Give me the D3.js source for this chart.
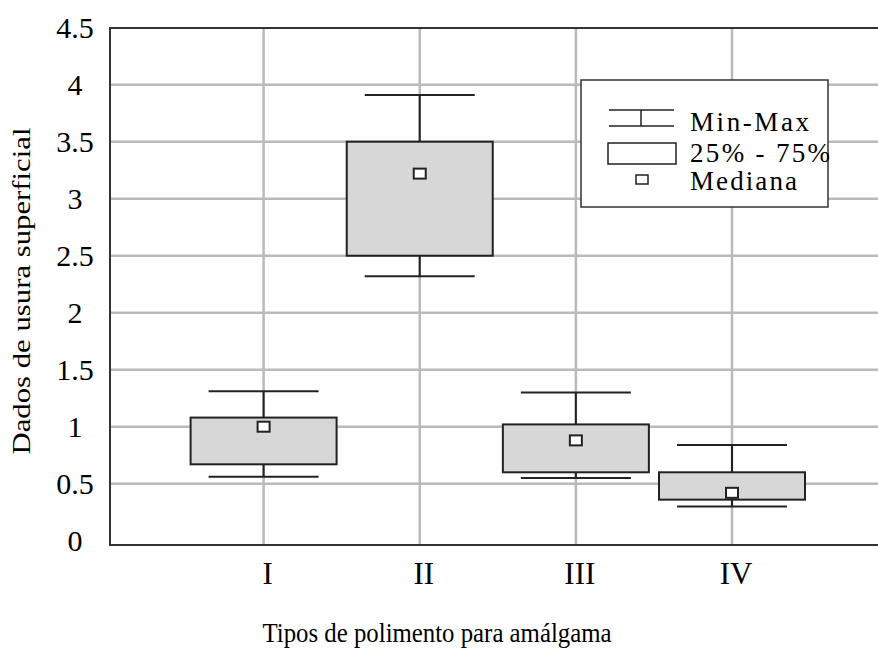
<!DOCTYPE html>
<html>
<head>
<meta charset="utf-8">
<script src="https://cdn.jsdelivr.net/npm/d3@7"></script>
<style>
  html, body { margin: 0; padding: 0; background: #fff; }
  svg { display: block; }
</style>
</head>
<body>
<svg id="chart" width="878" height="651"></svg>
<script>
// ---- data ----
const categories = ["I", "II", "III", "IV"];
const maxVals    = [1.31, 3.91, 1.30, 0.84];
const q3Vals     = [1.08, 3.50, 1.02, 0.60];
const medianVals = [1.00, 3.22, 0.88, 0.42];
const q1Vals     = [0.67, 2.50, 0.60, 0.36];
const minVals    = [0.56, 2.32, 0.55, 0.30];
const yTickValues = [0, 0.5, 1, 1.5, 2, 2.5, 3, 3.5, 4, 4.5];
const yTickLabels = ["0", "0.5", "1", "1.5", "2", "2.5", "3", "3.5", "4", "4.5"];
const legendLabels = ["Min-Max", "25% - 75%", "Mediana"];
const xTitle = "Tipos de polimento para amálgama";
const yTitle = "Dados de usura superficial";

// ---- layout ----
const FONT = "'Liberation Serif', 'Times New Roman', Times, serif";
const svg = d3.select("#chart").attr("font-family", FONT);
const pLeft = 110, pRight = 880, pTop = 28, pBottom = 545;
const boxW = 146, capW = 110, medW = 12, medH = 10;
const gridColor = "#bababa", inkColor = "#222";

const x = d3.scalePoint().domain(categories).range([263.6, 732]).padding(0);
const y = d3.scaleLinear().domain([0, 4.5]).range([540.7, 27.7]);

const data = categories.map((c, i) => ({
  cat: c, max: maxVals[i], q3: q3Vals[i], med: medianVals[i], q1: q1Vals[i], min: minVals[i]
}));

svg.append("rect").attr("width", 878).attr("height", 651).attr("fill", "#fff");

// gridlines
svg.append("g").selectAll("line")
  .data(yTickValues.filter(v => v > 0 && v < 4.5))
  .join("line")
  .attr("x1", pLeft).attr("x2", pRight)
  .attr("y1", d => y(d)).attr("y2", d => y(d))
  .attr("stroke", gridColor).attr("stroke-width", 2.5);

svg.append("g").selectAll("line")
  .data(categories)
  .join("line")
  .attr("x1", d => x(d)).attr("x2", d => x(d))
  .attr("y1", pTop).attr("y2", pBottom)
  .attr("stroke", gridColor).attr("stroke-width", 2.5);

// frame (top, left, bottom)
svg.append("path")
  .attr("d", `M${pRight},${pTop}H${pLeft}V${pBottom}H${pRight}`)
  .attr("fill", "none").attr("stroke", "#333").attr("stroke-width", 2);

// y tick labels
svg.append("g").selectAll("text")
  .data(yTickValues)
  .join("text")
  .attr("font-family", FONT)
  .attr("x", 75).attr("y", d => y(d))
  .attr("dy", "0.34em")
  .attr("text-anchor", "middle")
  .attr("font-size", 30)
  .attr("fill", "#000")
  .text((d, i) => yTickLabels[i]);

// x tick labels
svg.append("g").selectAll("text")
  .data(categories)
  .join("text")
  .attr("font-family", FONT)
  .attr("x", d => x(d) + 4).attr("y", 584)
  .attr("text-anchor", "middle")
  .attr("font-size", 31)
  .attr("fill", "#000")
  .text(d => d);

// axis titles
svg.append("text")
  .attr("font-family", FONT)
  .attr("x", 437).attr("y", 642)
  .attr("text-anchor", "middle")
  .attr("font-size", 28)
  .attr("textLength", 349)
  .attr("lengthAdjust", "spacingAndGlyphs")
  .attr("fill", "#000")
  .text(xTitle);

svg.append("text")
  .attr("font-family", FONT)
  .attr("transform", "translate(30,291) rotate(-90)")
  .attr("text-anchor", "middle")
  .attr("font-size", 25)
  .attr("textLength", 327)
  .attr("lengthAdjust", "spacingAndGlyphs")
  .attr("fill", "#000")
  .text(yTitle);

// boxes
const g = svg.append("g");
const box = g.selectAll("g").data(data).join("g");

// whisker stems
box.append("line")
  .attr("x1", d => x(d.cat)).attr("x2", d => x(d.cat))
  .attr("y1", d => y(d.max)).attr("y2", d => y(d.q3))
  .attr("stroke", inkColor).attr("stroke-width", 2);
box.append("line")
  .attr("x1", d => x(d.cat)).attr("x2", d => x(d.cat))
  .attr("y1", d => y(d.q1)).attr("y2", d => y(d.min))
  .attr("stroke", inkColor).attr("stroke-width", 2);
// caps
box.append("line")
  .attr("x1", d => x(d.cat) - capW / 2).attr("x2", d => x(d.cat) + capW / 2)
  .attr("y1", d => y(d.max)).attr("y2", d => y(d.max))
  .attr("stroke", inkColor).attr("stroke-width", 2);
box.append("line")
  .attr("x1", d => x(d.cat) - capW / 2).attr("x2", d => x(d.cat) + capW / 2)
  .attr("y1", d => y(d.min)).attr("y2", d => y(d.min))
  .attr("stroke", inkColor).attr("stroke-width", 2);
// IQR box
box.append("rect")
  .attr("x", d => x(d.cat) - boxW / 2).attr("width", boxW)
  .attr("y", d => y(d.q3)).attr("height", d => y(d.q1) - y(d.q3))
  .attr("fill", "#d7d7d7").attr("stroke", inkColor).attr("stroke-width", 2);
// median
box.append("rect")
  .attr("x", d => x(d.cat) - medW / 2).attr("width", medW)
  .attr("y", d => y(d.med) - medH / 2).attr("height", medH)
  .attr("fill", "#fff").attr("stroke", inkColor).attr("stroke-width", 2);

// legend
const lg = svg.append("g").attr("transform", "translate(581,80)");
lg.append("rect").attr("width", 247).attr("height", 127)
  .attr("fill", "#fff").attr("stroke", "#333").attr("stroke-width", 1.5);
// Min-Max symbol
lg.append("line").attr("x1", 28).attr("x2", 93).attr("y1", 30).attr("y2", 30)
  .attr("stroke", inkColor).attr("stroke-width", 1.5);
lg.append("line").attr("x1", 28).attr("x2", 93).attr("y1", 46).attr("y2", 46)
  .attr("stroke", inkColor).attr("stroke-width", 1.5);
lg.append("line").attr("x1", 60).attr("x2", 60).attr("y1", 30).attr("y2", 46)
  .attr("stroke", inkColor).attr("stroke-width", 1.5);
// box symbol
lg.append("rect").attr("x", 27).attr("y", 63).attr("width", 68).attr("height", 21)
  .attr("fill", "#fff").attr("stroke", inkColor).attr("stroke-width", 1.5);
// median symbol
lg.append("rect").attr("x", 55).attr("y", 95).attr("width", 12).attr("height", 9)
  .attr("fill", "#fff").attr("stroke", inkColor).attr("stroke-width", 1.5);

lg.selectAll("text").data(legendLabels).join("text")
  .attr("font-family", FONT)
  .attr("x", 109).attr("y", (d, i) => [51, 82, 110][i])
  .attr("font-size", 27)
  .attr("textLength", (d, i) => [119, 140, 107][i])
  .attr("lengthAdjust", "spacing")
  .attr("fill", "#000")
  .text(d => d);
</script>
</body>
</html>
